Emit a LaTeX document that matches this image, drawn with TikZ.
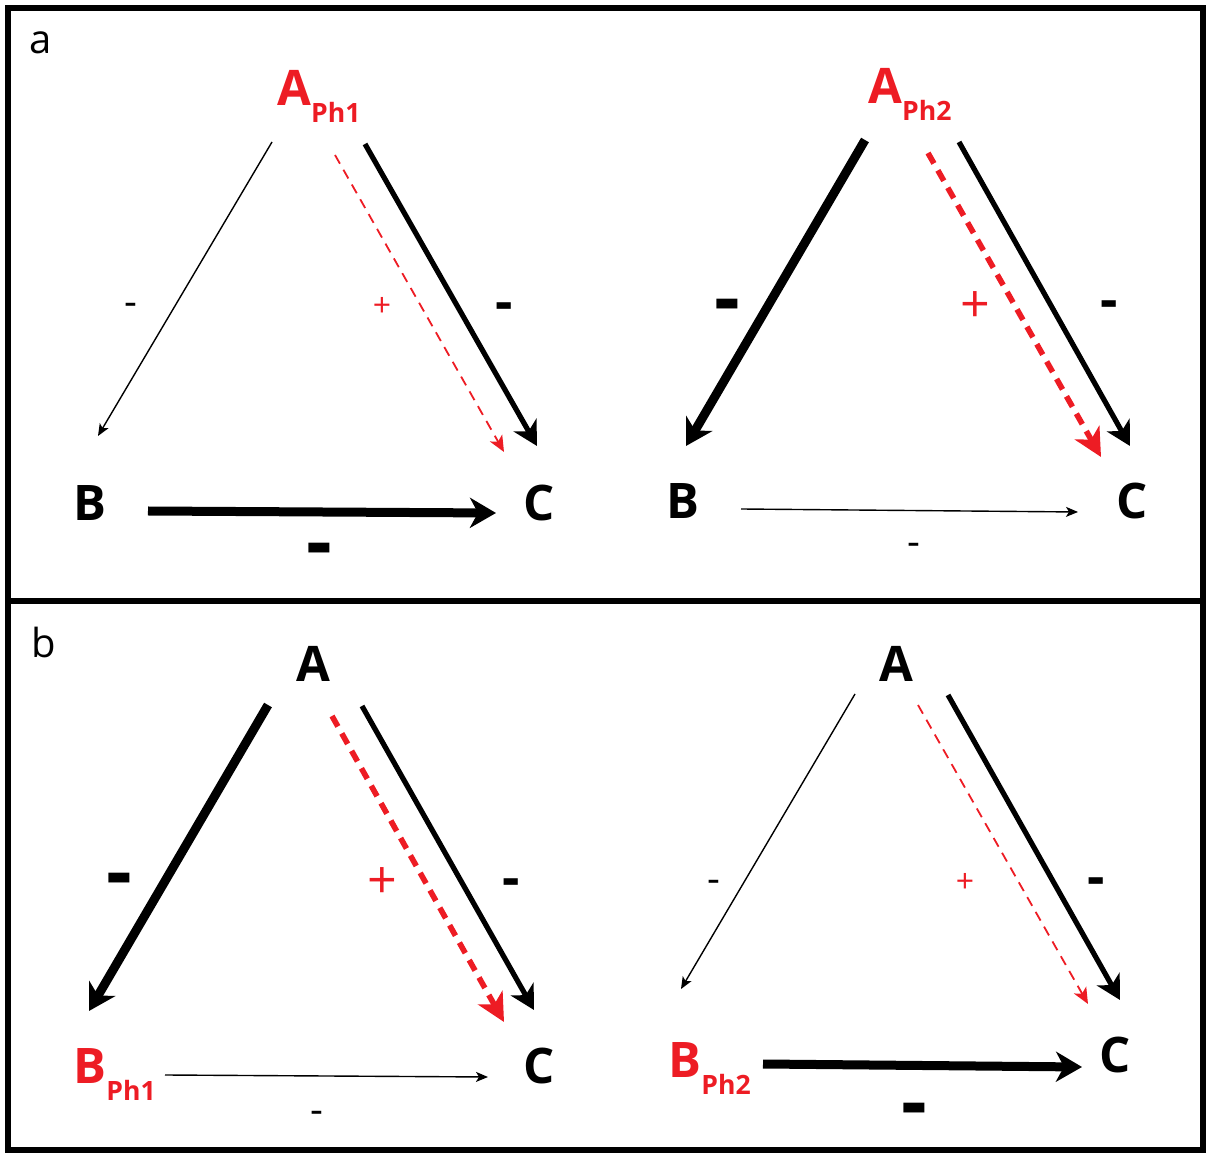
\documentclass[tikz,border=0pt]{standalone}
\usepackage{fontspec}
\setmainfont{Open Sans}
\usetikzlibrary{arrows.meta,calc}
\definecolor{phred}{RGB}{237,28,36}
\newcommand{\phsub}[1]{\raisebox{-8.5pt}{\fontsize{13.3}{14}\selectfont #1}}

\begin{document}
\begin{tikzpicture}[
  x=0.5pt,y=-0.5pt,
  >=Stealth,
  vtx/.style={inner sep=0pt,anchor=base west,font=\bfseries\fontsize{24.5}{26}\selectfont},
  vred/.style={vtx,text=phred},
  panel/.style={inner sep=0pt,anchor=base west,font=\fontsize{20}{22}\selectfont},
  thinarr/.style={line width=0.7pt,-{Stealth[length=6pt,width=5pt,inset=1.5pt]}},
  medarr/.style={line width=2.6pt,-{Stealth[length=12pt,width=13pt,inset=3.5pt]}},
  thickarr/.style={line width=4.5pt,-{Stealth[length=13pt,width=15pt,inset=4pt]}},
  dthin/.style={phred,line width=0.9pt,dash pattern=on 5pt off 3.5pt,
                -{Stealth[length=8pt,width=7pt,inset=2pt]}},
  dthick/.style={phred,line width=2.8pt,dash pattern=on 6pt off 4pt,
                 -{Stealth[length=14pt,width=14pt,inset=4pt]}},
  msmall/.style={anchor=mid,inner sep=0pt,yshift=-3.5pt,font=\fontsize{20}{22}\selectfont},
  mmed/.style={anchor=mid,inner sep=0pt,yshift=-5pt,font=\bfseries\fontsize{27}{29}\selectfont},
  mbig/.style={anchor=mid,inner sep=0pt,yshift=-8pt,font=\bfseries\fontsize{40}{42}\selectfont},
  psmall/.style={anchor=mid,inner sep=0pt,yshift=-3.5pt,text=phred,font=\fontsize{16}{18}\selectfont},
  pbig/.style={anchor=mid,inner sep=0pt,yshift=-6.5pt,text=phred,font=\fontsize{26}{28}\selectfont},
]
\useasboundingbox (0,0) rectangle (1206,1154);

%% frame
\draw[line width=2.6pt] (8,8) rectangle (1203,1150);
\draw[line width=2.6pt] (8,601) -- (1203,601);

\node[panel] (pa) at (29,54)  {a};
\node[panel] (pb) at (31,658) {b};

%% panel a, left
\node[vred] (A1) at (277,106) {A\phsub{Ph1}};
\node[vtx]  (B1) at (73,521)  {B};
\node[vtx]  (C1) at (523,521) {C};
\draw[thinarr]  ($(A1.base west)+(-5,36)$) -- ($(B1.base west)+(25,-85)$);
\draw[dthin]    ($(A1.base west)+(58,49)$) -- ($(C1.base west)+(-19,-69)$);
\draw[medarr]   ($(A1.base west)+(88,38)$) -- ($(C1.base west)+(14,-75)$);
\draw[thickarr] ($(B1.base west)+(75,-10)$) -- ($(C1.base west)+(-27,-8)$);
\node[msmall] (s1ab) at (131,303) {-};
\node[psmall] (s1p)  at (382,304) {+};
\node[mmed]   (s1ac) at (504,305) {-};
\node[mbig]   (s1bc) at (319,548) {-};

%% panel a, right
\node[vred] (A2) at (868,104)  {A\phsub{Ph2}};
\node[vtx]  (B2) at (666,519)  {B};
\node[vtx]  (C2) at (1116,519) {C};
\draw[thickarr] ($(A2.base west)+(-3,36)$) -- ($(B2.base west)+(20,-73)$);
\draw[dthick]   ($(A2.base west)+(60,49)$) -- ($(C2.base west)+(-15,-62)$);
\draw[medarr]   ($(A2.base west)+(91,38)$) -- ($(C2.base west)+(14,-73)$);
\draw[thinarr]  ($(B2.base west)+(75,-10)$) -- ($(C2.base west)+(-38,-7)$);
\node[mbig]   (s2ab) at (727,304)  {-};
\node[pbig]   (s2p)  at (975,304)  {+};
\node[mmed]   (s2ac) at (1109,303) {-};
\node[msmall] (s2bc) at (914,543)  {-};

%% panel b, left
\node[vtx]  (A3) at (296,682)  {A};
\node[vred] (B3) at (73,1083)  {B\phsub{Ph1}};
\node[vtx]  (C3) at (523,1083) {C};
\draw[thickarr] ($(A3.base west)+(-28,23)$) -- ($(B3.base west)+(16,-72)$);
\draw[dthick]   ($(A3.base west)+(36,34)$) -- ($(C3.base west)+(-19,-61)$);
\draw[medarr]   ($(A3.base west)+(66,24)$) -- ($(C3.base west)+(11,-73)$);
\draw[thinarr]  ($(B3.base west)+(92,-8)$) -- ($(C3.base west)+(-35,-6)$);
\node[mbig]   (s3ab) at (119,878)  {-};
\node[pbig]   (s3p)  at (382,880)  {+};
\node[mmed]   (s3ac) at (511,881)  {-};
\node[msmall] (s3bc) at (317,1111) {-};

%% panel b, right
\node[vtx]  (A4) at (879,682)   {A};
\node[vred] (B4) at (668,1077)  {B\phsub{Ph2}};
\node[vtx]  (C4) at (1099,1072) {C};
\draw[thinarr]  ($(A4.base west)+(-24,12)$) -- ($(B4.base west)+(13,-88)$);
\draw[dthin]    ($(A4.base west)+(39,23)$) -- ($(C4.base west)+(-11,-68)$);
\draw[medarr]   ($(A4.base west)+(69,13)$) -- ($(C4.base west)+(21,-72)$);
\draw[thickarr] ($(B4.base west)+(95,-13)$) -- ($(C4.base west)+(-17,-5)$);
\node[msmall] (s4ab) at (714,880)  {-};
\node[psmall] (s4p)  at (965,880)  {+};
\node[mmed]   (s4ac) at (1096,880) {-};
\node[mbig]   (s4bc) at (914,1108) {-};

\end{tikzpicture}
\end{document}
